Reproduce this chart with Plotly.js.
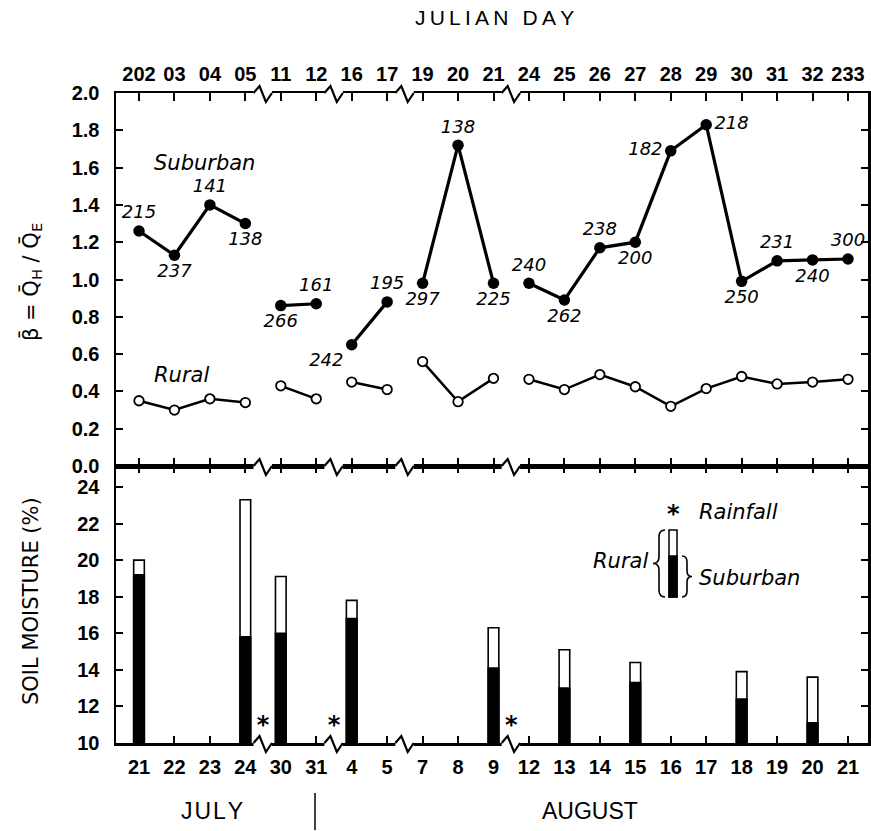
<!DOCTYPE html>
<html><head><meta charset="utf-8">
<script src="https://cdn.plot.ly/plotly-3.0.1.min.js"></script>
<style>html,body{margin:0;padding:0;background:#fff}</style>
</head><body>
<div id="chart" style="width:871px;height:831px"></div>
<script>
// ---- data ----
const topLabels = ['202','03','04','05','11','12','16','17','19','20','21','24','25','26','27','28','29','30','31','32','233'];
const bottomLabels = ['21','22','23','24','30','31','4','5','7','8','9','12','13','14','15','16','17','18','19','20','21'];
const breakAfter = [3, 5, 7, 10];          // axis breaks between day i and i+1
const suburbanBeta = [1.26,1.13,1.40,1.30,0.86,0.87,0.65,0.88,0.98,1.72,0.98,0.98,0.89,1.17,1.20,1.69,1.83,0.99,1.10,1.105,1.11];
const suburbanLabels = ['215','237','141','138','266','161','242','195','297','138','225','240','262','238','200','182','218','250','231','240','300'];
const ruralBeta = [0.35,0.30,0.36,0.34,0.43,0.36,0.45,0.41,0.56,0.345,0.47,0.465,0.41,0.49,0.425,0.32,0.415,0.48,0.44,0.45,0.465];
const moistureDay = [0,3,4,6,10,12,14,17,19];
const ruralMoisture = [20.0,23.3,19.1,17.8,16.3,15.1,14.4,13.9,13.6];
const suburbanMoisture = [19.2,15.8,16.0,16.8,14.1,13.0,13.3,12.4,11.1];
const rainfallAfter = [3, 5, 10];

// ---- styling / layout helpers ----
const labelPos = ['top center','bottom center','top center','bottom center','bottom center','top center','bottom left','top center','bottom center','top center','bottom center','top center','bottom center','top center','bottom center','middle left','middle right','bottom center','top center','bottom center','top center'];
const L = 116, R = 868, T = 93, B = 743, MID = 466;
const px = x => (x - L) / (R - L);
const py = y => (B - y) / (B - T);
const split = py(MID);
const AXW = 2.5;

// segments of consecutive days between axis breaks
const segments = [];
{
  let start = 0;
  breakAfter.concat([topLabels.length - 1]).forEach(e => { segments.push([start, e]); start = e + 1; });
}
const range = (a, b) => Array.from({length: b - a + 1}, (_, k) => a + k);

const numFont = {family: 'DejaVu Sans', size: 18, style: 'italic', color: 'black'};
const itFont = {family: 'DejaVu Sans', size: 21, style: 'italic', color: 'black'};
const tickFont = {family: 'Liberation Sans', size: 20, weight: 'bold', color: 'black'};

const traces = [];
segments.forEach(([a, b]) => {
  const xs = range(a, b);
  traces.push({x: xs, y: xs.map(i => ruralBeta[i]), xaxis: 'x2', yaxis: 'y2', type: 'scatter',
    mode: 'lines+markers', line: {color: 'black', width: 2.5},
    marker: {symbol: 'circle', size: 9.5, color: 'white', line: {color: 'black', width: 1.8}}, cliponaxis: false});
  traces.push({x: xs, y: xs.map(i => suburbanBeta[i]), xaxis: 'x2', yaxis: 'y2', type: 'scatter',
    mode: 'lines+markers+text', line: {color: 'black', width: 3.2},
    marker: {size: 11.5, color: 'black'}, text: xs.map(i => suburbanLabels[i]),
    textposition: xs.map(i => labelPos[i]), textfont: numFont, cliponaxis: false});
});
traces.push(
  {x: moistureDay, y: ruralMoisture, xaxis: 'x', yaxis: 'y', type: 'bar', width: 0.3,
   marker: {color: 'white', line: {color: 'black', width: 1.6}}},
  {x: moistureDay, y: suburbanMoisture, xaxis: 'x', yaxis: 'y', type: 'bar', width: 0.3,
   marker: {color: 'black', line: {color: 'black', width: 1.6}}},
  {x: rainfallAfter.map(i => i + 0.5), y: rainfallAfter.map(() => 10.85), xaxis: 'x', yaxis: 'y',
   type: 'scatter', mode: 'text', text: rainfallAfter.map(() => '*'), textposition: 'middle center',
   textfont: {family: 'DejaVu Sans', size: 24, weight: 'bold', color: 'black'}, cliponaxis: false}
);

const shapes = [];
[1, split, 0].forEach(lv => {
  breakAfter.forEach(i => {
    const b = i + 0.5;
    shapes.push({type: 'line', xref: 'x', yref: 'paper', ysizemode: 'pixel', yanchor: lv,
      x0: b - 0.27, x1: b + 0.25, y0: 0, y1: 0, line: {color: 'white', width: 6}, layer: 'above'});
    shapes.push({type: 'path', xref: 'x', yref: 'paper', ysizemode: 'pixel', yanchor: lv,
      path: `M${b - 0.27},0 L${b - 0.1},7 L${b + 0.08},-9 L${b + 0.25},0`,
      line: {color: 'black', width: 2.2}, layer: 'above'});
  });
});
// legend sample bar
shapes.push({type: 'rect', xref: 'paper', yref: 'paper', x0: px(669), x1: px(677), y0: py(597), y1: py(530),
  fillcolor: 'white', line: {color: 'black', width: 1.5}});
shapes.push({type: 'rect', xref: 'paper', yref: 'paper', x0: px(669), x1: px(677), y0: py(597), y1: py(556),
  fillcolor: 'black', line: {color: 'black', width: 1.5}});
// braces (pixel paths anchored at plot origin)
function P(x, y) { return `${x - L},${B - y}`; }
const leftBrace = `M${P(665,530)} Q${P(659,530)} ${P(659,537)} L${P(659,557)} Q${P(659,563.5)} ${P(653,563.5)} Q${P(659,563.5)} ${P(659,570)} L${P(659,590)} Q${P(659,597)} ${P(665,597)}`;
const rightBrace = `M${P(682,556)} Q${P(687,556)} ${P(687,562)} L${P(687,571)} Q${P(687,576.5)} ${P(692,576.5)} Q${P(687,576.5)} ${P(687,582)} L${P(687,591)} Q${P(687,597)} ${P(682,597)}`;
[leftBrace, rightBrace].forEach(p => shapes.push({type: 'path', xref: 'paper', yref: 'paper',
  xsizemode: 'pixel', ysizemode: 'pixel', xanchor: 0, yanchor: 0, path: p, line: {color: 'black', width: 1.6}}));
// July / August separator
shapes.push({type: 'line', xref: 'paper', yref: 'paper', x0: px(315), x1: px(315), y0: py(793), y1: py(830),
  line: {color: 'black', width: 1.5}});

const ann = (text, x, y, font, extra) => Object.assign({text, x: px(x), y: py(y), xref: 'paper', yref: 'paper',
  showarrow: false, font, xanchor: 'center', yanchor: 'middle'}, extra || {});
const plain = (size, fam) => ({family: fam || 'Liberation Sans', size, color: 'black'});
const annotations = [
  ann('J\u2009U\u2009L\u2009I\u2009A\u2009N\u2009 \u2009D\u2009A\u2009Y', 494, 18, plain(21)),
  ann('Suburban', 204, 163, itFont),
  ann('Rural', 181, 375, itFont),
  ann('\u03B2\u0304 = Q\u0304<sub>H</sub> / Q\u0304<sub>E</sub>', 31, 282, plain(21, 'DejaVu Sans'), {textangle: -90}),
  ann('SOIL MOISTURE (%)', 31, 601, plain(21, 'DejaVu Sans'), {textangle: -90}),
  ann('J\u200AU\u200AL\u200AY', 212, 811, plain(23)),
  ann('AUGUST', 590, 811, plain(23)),
  ann('*', 673, 514, {family: 'DejaVu Sans', size: 24, weight: 'bold', color: 'black'}),
  ann('Rainfall', 697, 512, itFont, {xanchor: 'left'}),
  ann('Rural', 650, 561, itFont, {xanchor: 'right'}),
  ann('Suburban', 697, 578, itFont, {xanchor: 'left'})
];

const idx = topLabels.map((_, i) => i);
const xr = [(L - 139) / 35.45, (R - 139) / 35.45];
const axisCommon = {showline: true, linewidth: AXW, linecolor: 'black', mirror: 'ticks', ticks: 'inside',
  tickwidth: 2, tickcolor: 'black', showgrid: false, zeroline: false, tickfont: tickFont};
const layout = {
  width: 871, height: 831, showlegend: false, barmode: 'overlay',
  paper_bgcolor: 'white', plot_bgcolor: 'white',
  margin: {l: L, r: 871 - R, t: T, b: 831 - B, pad: 0},
  xaxis: Object.assign({}, axisCommon, {domain: [0, 1], anchor: 'y', range: xr, tickvals: idx,
    ticktext: bottomLabels, ticklen: 7, ticklabelstandoff: 4}),
  xaxis2: Object.assign({}, axisCommon, {domain: [0, 1], anchor: 'y2', side: 'top', range: xr, tickvals: idx,
    ticktext: topLabels, ticklen: 8, ticklabelstandoff: 2}),
  yaxis: Object.assign({}, axisCommon, {domain: [0, split], anchor: 'x', range: [10, 10 + (B - MID) / 18.29],
    tickvals: [10,12,14,16,18,20,22,24], ticklen: 7, ticklabelstandoff: 10}),
  yaxis2: Object.assign({}, axisCommon, {domain: [split, 1], anchor: 'x2', range: [0, 2], dtick: 0.2, tick0: 0,
    tickformat: '.1f', ticklen: 7, ticklabelstandoff: 10}),
  shapes, annotations
};
Plotly.newPlot('chart', traces, layout, {staticPlot: true, displayModeBar: false});
</script>
</body></html>
